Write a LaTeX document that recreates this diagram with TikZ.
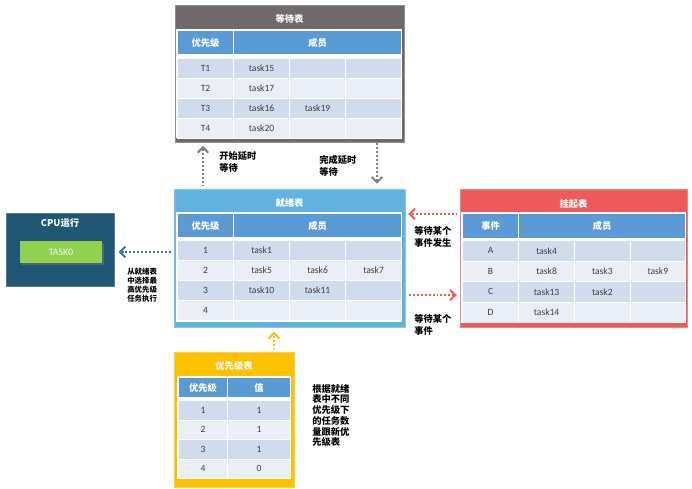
\documentclass[tikz,border=0pt]{standalone}
\usepackage{fontspec}
\setmainfont{Carlito}
\newfontfamily\cjk{Noto Sans CJK SC}
\usetikzlibrary{arrows.meta, shadows}
\definecolor{waitgray}{HTML}{6F6A69}
\definecolor{readyblue}{HTML}{62B1DE}
\definecolor{suspred}{HTML}{EE5A5C}
\definecolor{prioyellow}{HTML}{FFC000}
\definecolor{cpublue}{HTML}{1F5673}
\definecolor{taskgreen}{HTML}{92D050}
\definecolor{headblue}{HTML}{5B9BD5}
\definecolor{rowdark}{HTML}{D0DBEE}
\definecolor{rowlight}{HTML}{E9EEF7}
\definecolor{celltext}{HTML}{3F3F3F}
\definecolor{arrgray}{HTML}{7F7F7F}
\definecolor{arrred}{HTML}{F05A5A}
\definecolor{arrblue}{HTML}{2E75B6}
\tikzset{sz/.style 2 args={minimum width=#1*0.025cm, minimum height=#2*0.025cm},
    panel/.style={inner sep=0, draw=#1!75!white, fill=#1, line width=0.6pt},
    ptitle/.style={inner sep=0, text=white, font=\cjk\bfseries\fontsize{6.6}{8}\selectfont},
    hcell/.style={anchor=north west, inner sep=0, draw=white, line width=0.8pt, fill=headblue,
      text=white, font=\cjk\bfseries\fontsize{6.6}{8}\selectfont},
    cell/.style={anchor=north west, inner sep=0, draw=white, line width=0.8pt,
      text=celltext, font=\fontsize{6.8}{8}\selectfont},
    note/.style={anchor=north west, align=left, inner sep=0,
      font=\cjk\bfseries\fontsize{6.6}{8.4}\selectfont},
    flow/.style={draw=#1, line width=1.4pt, dash pattern=on 1.4pt off 1.4pt,
      -{Straight Barb[length=3.8pt,width=7.5pt,line width=1.4pt]}}}
\begin{document}
\begin{tikzpicture}[x=0.025cm, y=-0.025cm]
    \useasboundingbox (0,0) rectangle (692,488);
    %panels
    \node[panel=waitgray, sz={229}{137}] (wait) at (289.5,73.5) {};
    \node[panel=readyblue, sz={231}{138}] (ready) at (289.5,258) {};
    \node[panel=suspred, sz={227}{138}] (susp) at (573.5,258) {};
    \node[panel=cpublue, sz={108}{73}] (cpu) at (60,249.5) {};
    \node[panel=prioyellow, sz={120}{135}] (prio) at (234,419.5) {};
    \node[ptitle] (wait-t) at (289.5,19) {等待表};
    \node[ptitle] (ready-t) at (289.5,203) {就绪表};
    \node[ptitle] (susp-t) at (573.5,204) {挂起表};
    \node[ptitle] (cpu-t) at (60,223) {CPU运行};
    \node[ptitle] (prio-t) at (234,366) {优先级表};
    %CPU running task
    \node[inner sep=0, fill=taskgreen, sz={82}{22}, text=white!90!taskgreen, font=\fontsize{7}{8}\selectfont,
      drop shadow={shadow xshift=1.2pt, shadow yshift=-1.2pt, opacity=0.45}] (task0) at (61,252) {TASK0};
    %waiting table
    \fill[white] (176,29) rectangle (402,138);
    \node[hcell, sz={56}{24}] (w-h1) at (177,30) {优先级};
    \node[hcell, sz={168}{24}] (w-h2) at (233,30) {成员};
    \foreach \i/\p/\a/\b in {1/T1/task15/{}, 2/T2/task17/{}, 3/T3/task16/task19, 4/T4/task20/{}} {
      \ifodd\i \def\rc{rowdark}\else \def\rc{rowlight}\fi
      \node[cell, fill=\rc, sz={56}{20}] (w-\i-1) at (177,37.5+\i*20) {\p};
      \node[cell, fill=\rc, sz={56}{20}] (w-\i-2) at (233,37.5+\i*20) {\a};
      \node[cell, fill=\rc, sz={56}{20}] (w-\i-3) at (289,37.5+\i*20) {\b};
      \node[cell, fill=\rc, sz={56}{20}] (w-\i-4) at (345,37.5+\i*20) {};
    }
    %ready table
    \fill[white] (176,212) rectangle (402,322);
    \node[hcell, sz={56}{24}] (r-h1) at (177,213) {优先级};
    \node[hcell, sz={168}{24}] (r-h2) at (233,213) {成员};
    \foreach \i/\a/\b/\c in {1/task1/{}/{}, 2/task5/task6/task7, 3/task10/task11/{}, 4/{}/{}/{}} {
      \ifodd\i \def\rc{rowdark}\else \def\rc{rowlight}\fi
      \node[cell, fill=\rc, sz={56}{20}] (r-\i-1) at (177,220+\i*20) {\i};
      \node[cell, fill=\rc, sz={56}{20}] (r-\i-2) at (233,220+\i*20) {\a};
      \node[cell, fill=\rc, sz={56}{20}] (r-\i-3) at (289,220+\i*20) {\b};
      \node[cell, fill=\rc, sz={56}{20}] (r-\i-4) at (345,220+\i*20) {\c};
    }
    %suspend table
    \fill[white] (461,212) rectangle (686,323);
    \node[hcell, sz={56}{25}] (s-h1) at (462,213) {事件};
    \node[hcell, sz={167}{25}] (s-h2) at (518,213) {成员};
    \foreach \i/\e/\a/\b/\c in {1/A/task4/{}/{}, 2/B/task8/task3/task9, 3/C/task13/task2/{}, 4/D/task14/{}/{}} {
      \ifodd\i \def\rc{rowdark}\else \def\rc{rowlight}\fi
      \node[cell, fill=\rc, sz={56}{20.5}] (s-\i-1) at (462,219.5+\i*20.5) {\e};
      \node[cell, fill=\rc, sz={56}{20.5}] (s-\i-2) at (518,219.5+\i*20.5) {\a};
      \node[cell, fill=\rc, sz={55.5}{20.5}] (s-\i-3) at (574,219.5+\i*20.5) {\b};
      \node[cell, fill=\rc, sz={55.5}{20.5}] (s-\i-4) at (629.5,219.5+\i*20.5) {\c};
    }
    %priority table
    \fill[white] (177,376) rectangle (291,479);
    \node[hcell, sz={49}{20}] (p-h1) at (178,377) {优先级};
    \node[hcell, sz={63}{20}] (p-h2) at (227,377) {值};
    \foreach \i/\v in {1/1, 2/1, 3/1, 4/0} {
      \ifodd\i \def\rc{rowdark}\else \def\rc{rowlight}\fi
      \node[cell, fill=\rc, sz={49}{19.5}] (p-\i-1) at (178,380.5+\i*19.5) {\i};
      \node[cell, fill=\rc, sz={63}{19.5}] (p-\i-2) at (227,380.5+\i*19.5) {\v};
    }
    %arrows between tables
    \coordinate (upx) at (203,0);
    \coordinate (downx) at (377,0);
    \coordinate (wakey) at (0,214);
    \coordinate (waity) at (0,295);
    \coordinate (runy) at (0,252);
    \coordinate (prix) at (274,0);
    \draw[flow=arrgray, shorten <=1.5pt, shorten >=2.5pt] (upx |- ready.north) -- (upx |- wait.south);
    \draw[flow=arrgray, shorten <=0.7pt, shorten >=3.5pt] (downx |- wait.south) -- (downx |- ready.north);
    \draw[flow=arrred, shorten <=1.5pt, shorten >=2pt] (susp.west |- wakey) -- (ready.east |- wakey);
    \draw[flow=arrred, shorten <=2.5pt, shorten >=2pt] (ready.east |- waity) -- (susp.west |- waity);
    \draw[flow=arrblue, shorten <=2pt, shorten >=3pt] (ready.west |- runy) -- (cpu.east |- runy);
    \draw[flow=prioyellow, shorten <=1.5pt, shorten >=3pt] (prix |- prio.north) -- (prix |- ready.south);
    %labels
    \node[note] (n-start) at (219,151) {开始延时\\等待};
    \node[note] (n-done) at (319,155) {完成延时\\等待};
    \node[note] (n-wake) at (414,226) {等待某个\\事件发生};
    \node[note] (n-wait) at (414,314) {等待某个\\事件};
    \node[note, font=\cjk\bfseries\fontsize{5.3}{6.3}\selectfont] (n-run) at (127,268) {从就绪表\\中选择最\\高优先级\\任务执行};
    \node[note, font=\cjk\bfseries\fontsize{6.6}{7.6}\selectfont] (n-prio) at (312,384) {根据就绪\\表中不同\\优先级下\\的任务数\\量跟新优\\先级表};
\end{tikzpicture}
\end{document}
